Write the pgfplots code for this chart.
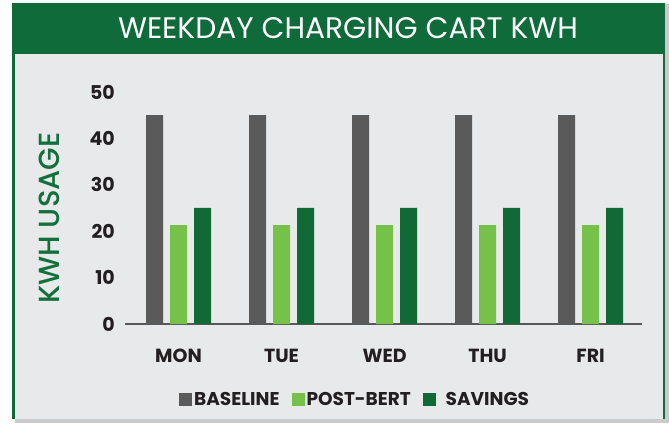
\documentclass[border=0pt]{standalone}
\usepackage{fontspec}
\setmainfont{Poppins}
\newfontfamily\semi{Poppins Medium}
\usepackage{pgfplots}
\pgfplotsset{compat=1.18}
\definecolor{hdr}{HTML}{0F6B3A}
\definecolor{panel}{HTML}{E8E9EB}
\definecolor{shadow}{HTML}{CBCBCB}
\definecolor{cbase}{HTML}{5A5A5A}
\definecolor{cpost}{HTML}{76C14A}
\definecolor{csave}{HTML}{116936}
\definecolor{ink}{HTML}{231F20}
\definecolor{lab}{HTML}{12703B}
\definecolor{axl}{HTML}{58585A}
\begin{document}
\begin{tikzpicture}[x=1pt,y=1pt]
\fill[white] (0,0) rectangle (669,423);
\fill[shadow] (15,0) rectangle (669,419);
\fill[panel] (12,4) rectangle (665,420);
\fill[hdr] (12,369) rectangle (665,420);
\fill[hdr] (12,4) rectangle (14.5,369);
\fill[hdr] (662.5,4) rectangle (665,369);
\node[white, inner sep=0] at (348,395) {\resizebox{460pt}{!}{\fontsize{28}{30}\selectfont WEEKDAY CHARGING CART KWH}};
\node[lab, rotate=90, inner sep=0] at (49,205) {\resizebox{171pt}{!}{\fontsize{28}{30}\selectfont\semi KWH USAGE}};
\begin{axis}[
  at={(125pt,99pt)}, anchor=south west,
  x=103pt, y=4.64pt,
  xmin=-0.52, xmax=4.5, ymin=0, ymax=50,
  ybar=7pt, bar width=17pt,
  axis x line*=bottom, axis y line*=left,
  y axis line style={draw=none},
  x axis line style={axl, line width=1.5pt},
  major tick length=0,
  xtick=data, xticklabels={MON,TUE,WED,THU,FRI},
  ytick={0,10,20,30,40,50},
  /pgf/number format/assume math mode=true,
  ticklabel style={font=\fontsize{19}{21}\selectfont\bfseries, text=ink, inner sep=0},
  xticklabel style={anchor=center, yshift=-32pt},
  yticklabel style={anchor=east, xshift=-10pt},
  legend columns=3,
  legend style={at={(axis cs:1.714,-16.3)}, anchor=center, draw=none, fill=none,
    font=\fontsize{18.5}{21}\selectfont\bfseries, text=ink,
    /tikz/every even column/.append style={column sep=10pt}},
  legend image code/.code={\fill[#1] (0pt,-6.5pt) rectangle (13pt,6.5pt);},
  clip=false,
]
\addplot[fill=cbase, draw=none] coordinates {(0,45) (1,45) (2,45) (3,45) (4,45)};
\addplot[fill=cpost, draw=none] coordinates {(0,21.3) (1,21.3) (2,21.3) (3,21.3) (4,21.3)};
\addplot[fill=csave, draw=none] coordinates {(0,25) (1,25) (2,25) (3,25) (4,25)};
\legend{BASELINE,POST-BERT,\ \ SAVINGS}
\end{axis}
\end{tikzpicture}
\end{document}
